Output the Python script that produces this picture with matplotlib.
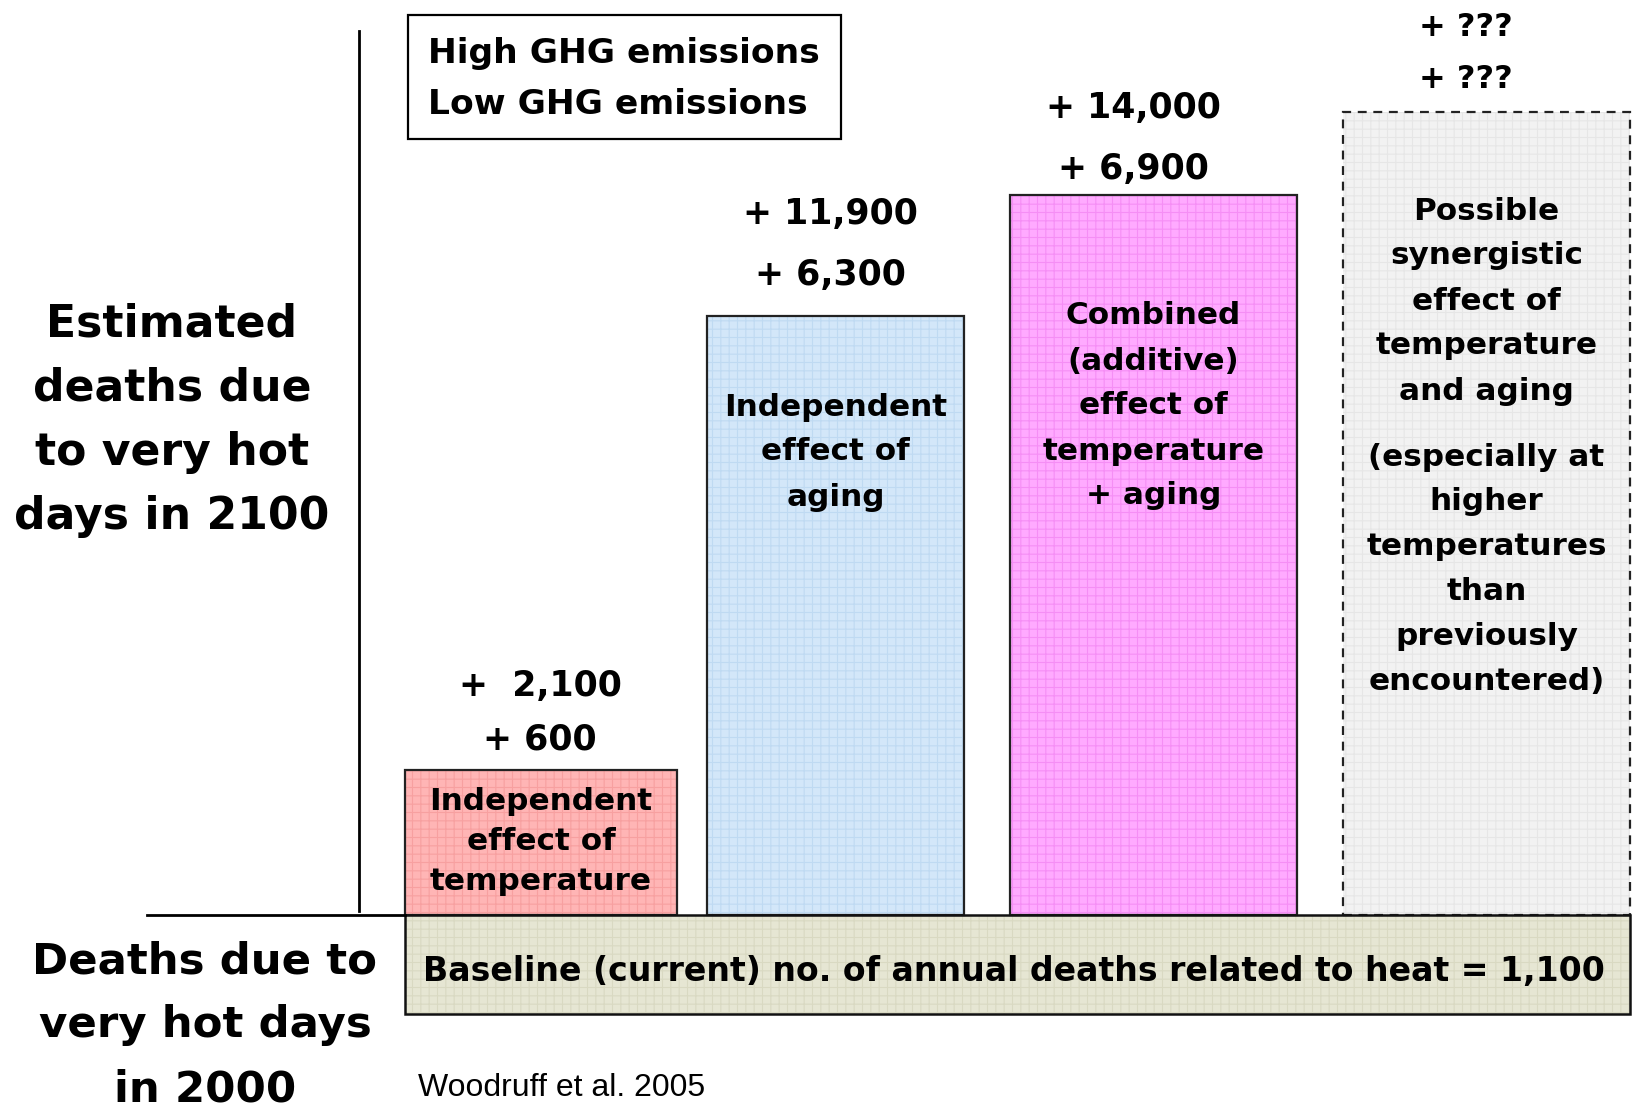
import matplotlib
matplotlib.use('Agg')
import matplotlib.pyplot as plt
import numpy as np

# data
bar_labels = ['Independent\neffect of\ntemperature',
              'Independent\neffect of\naging',
              'Combined\n(additive)\neffect of\ntemperature\n+ aging',
              'Possible\nsynergistic\neffect of\ntemperature\nand aging']
high_ghg = ['+  2,100', '+ 11,900', '+ 14,000', '+ ???']
low_ghg = ['+ 600', '+ 6,300', '+ 6,900', '+ ???']
bar_heights = [145, 599, 720, 803]     # relative bar heights above baseline
baseline_deaths = '1,100'

# layout (pixel units, y grows downwards)
base_y = 915
bar_left = [405, 707, 1010, 1343]
bar_right = [677, 964, 1297, 1630]
fills = ['#FFB5B5', '#D3E7F9', '#FFAAFF', '#F2F2F2']
hatch_cols = ['#F7A0A0', '#BFDAF2', '#F58EF5', '#E6E6E6']
styles = ['solid', 'solid', 'solid', (0, (4, 3))]
dy = 3

font = 'DejaVu Sans'
plt.rcParams['hatch.linewidth'] = 0.8

fig = plt.figure(figsize=(16.36, 11.07), dpi=100)
ax = fig.add_axes([0, 0, 1, 1])
ax.set_xlim(0, 1636)
ax.set_ylim(1107, 0)
ax.axis('off')

x = (np.array(bar_left) + np.array(bar_right)) / 2
w = np.array(bar_right) - np.array(bar_left)
h = -np.array(bar_heights)

ax.bar(x, h, w, bottom=base_y, color=fills, linewidth=0, zorder=1)
for i in range(4):
    ax.bar(x[i], h[i], w[i], bottom=base_y, color='none', edgecolor=hatch_cols[i],
           hatch='++', linewidth=0, zorder=2)
    ax.bar(x[i], h[i], w[i], bottom=base_y, color='none', edgecolor='#222222',
           linewidth=1.6, linestyle=styles[i], zorder=3)

# baseline box
ax.bar(1017.5, 99, 1225, bottom=base_y, color='#E6E6D3', linewidth=0, zorder=1)
ax.bar(1017.5, 99, 1225, bottom=base_y, color='none', edgecolor='#D9D9C2',
       hatch='++', linewidth=0, zorder=2)
ax.bar(1017.5, 99, 1225, bottom=base_y, color='none', edgecolor='#111111',
       linewidth=1.8, zorder=4)
ax.text(423, 969 + dy, 'Baseline (current) no. of annual deaths related to heat = ' + baseline_deaths,
        fontsize=23.9, fontweight='bold', family=font, va='center', ha='left', zorder=5)

# axis lines
ax.plot([147, 405], [base_y, base_y], color='black', lw=2, zorder=4)
ax.plot([359, 359], [31, 911], color='black', lw=2, zorder=4)

# bar labels
label_tops = [799, 404, 313, 208]
label_step = [40, 45, 45, 45]
for i in range(4):
    for j, line in enumerate(bar_labels[i].split('\n')):
        ax.text(x[i], label_tops[i] + j * label_step[i] + dy, line, fontsize=22.4,
                fontweight='bold', family=font, ha='center', va='center', zorder=5)
extra = ['(especially at', 'higher', 'temperatures', 'than', 'previously', 'encountered)']
for j, line in enumerate(extra):
    ax.text(x[3], 454 + j * 44.8 + dy, line, fontsize=22.4, fontweight='bold', family=font,
            ha='center', va='center', zorder=5)

# value labels above bars
high_y = [683, 211, 105, 25]
low_y = [736, 272, 166, 77]
val_x = [540, 830, 1133, 1466]
val_size = [25, 25, 25, 23]
for i in range(4):
    ax.text(val_x[i], high_y[i] + dy, high_ghg[i], fontsize=val_size[i], fontweight='bold',
            family=font, ha='center', va='center')
    ax.text(val_x[i], low_y[i] + dy, low_ghg[i], fontsize=val_size[i], fontweight='bold',
            family=font, ha='center', va='center')

# legend box
ax.add_patch(plt.Rectangle((408, 15), 433, 124, fill=False, edgecolor='black', lw=1.6))
ax.text(428, 51 + dy, 'High GHG emissions', fontsize=24.8, fontweight='bold', family=font,
        ha='left', va='center')
ax.text(428, 102 + dy, 'Low GHG emissions', fontsize=24.8, fontweight='bold', family=font,
        ha='left', va='center')

# side labels
for j, line in enumerate(['Estimated', 'deaths due', 'to very hot', 'days in 2100']):
    ax.text(172, 321 + j * 64 + dy, line, fontsize=31.8, fontweight='bold', family=font,
            ha='center', va='center')
for j, line in enumerate(['Deaths due to', 'very hot days', 'in 2000']):
    ax.text(205, 958 + j * 64 + dy, line, fontsize=31.3, fontweight='bold', family=font,
            ha='center', va='center')

ax.text(418, 1085 + dy, 'Woodruff et al. 2005', fontsize=23, family='Liberation Sans',
        ha='left', va='center')

fig.savefig('out.png', dpi=100)
